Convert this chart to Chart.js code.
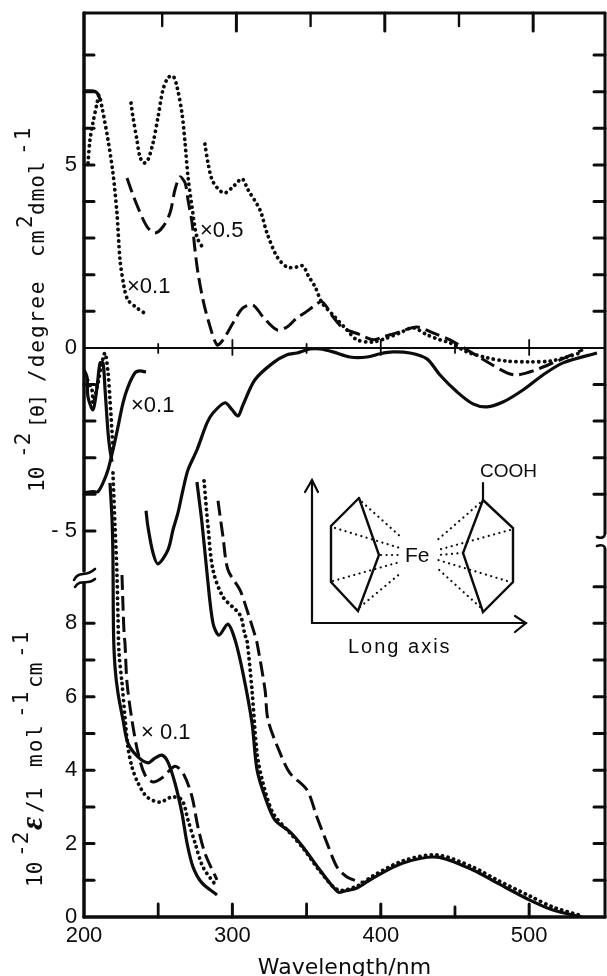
<!DOCTYPE html>
<html><head><meta charset="utf-8">
<style>html,body{margin:0;padding:0;background:#fff}canvas{display:block}</style>
<script src="https://cdn.jsdelivr.net/npm/chart.js@4"></script>
</head><body><canvas id="c" width="607" height="976"></canvas>
<script>
// CD panel, [theta] (units 10^2 degree cm2 dmol-1)
const cdDot01X=[202.7,204,206,208.8,210.1,212.1,216.2,219.5,222.2,224.3,227,229.6,235.7,240.4];
const cdDot01Y=[5.05,5.68,6.15,6.69,6.91,6.58,5.68,4.78,3.69,2.40,1.67,1.31,1.09,0.96];
const cdDash01X=[200,205.4,208.8,210.8];
const cdDash01Y=[7.02,7.02,6.97,6.8];
const cdDot05aX=[231.7,233,235.7,237.7,240.4,243.1,246.5,249.9,253.2,256.6,260,262.7,266,268.1,270.1,272.8,276.1,280.9];
const cdDot05aY=[6.69,6.31,5.68,5.22,5.05,5.14,5.60,6.31,7.05,7.38,7.43,7.13,6.42,5.60,4.67,3.85,3.03,2.68];
const cdDotX=[281.5,283.6,286.9,294.3,300.4,306.5,310.5,318.6,323.3,330.1,336.8,343.5,347.6,350.9,355.7,360.4,367.8,377.2,384,394.1,402.8,412.9,421.7,431.1,439.9,446.6,458.1,471.6,485,500.5,514,525.5,536.3];
const cdDotY=[5.57,5.05,4.54,4.23,4.40,4.62,4.32,3.77,3.14,2.49,2.21,2.21,2.24,1.99,1.67,1.23,0.90,0.49,0.22,0.16,0.25,0.41,0.55,0.36,0.22,0.14,-0.11,-0.27,-0.36,-0.38,-0.36,-0.25,-0.11];
const cdDashX=[229,232.3,236.4,242.5,247.8,253.2,258,261.3,264.7,268.1,270.1,272.8,274.8,276.8,280.2,283.6,289.6,293.7,300.4,307.1,313.9,320.6,330.1,336.8,343.5,348.9,354.3,360.4,367.8,374.5,386,394.7,401.5,412.9,424.4,435.2,446.6,458.1,471.6,485,491.8,502.6,516,536.3];
const cdDashY=[4.64,4.26,3.83,3.31,3.14,3.31,3.69,4.32,4.67,4.51,4.04,3.42,2.68,2.05,1.31,0.77,0.08,0.22,0.68,1.09,1.17,0.85,0.49,0.57,0.82,0.96,1.12,1.26,0.85,0.55,0.36,0.22,0.30,0.44,0.57,0.41,0.22,-0.05,-0.38,-0.68,-0.74,-0.63,-0.41,-0.05];
const cdSolidX=[241.8,243.1,246.5,249.9,256.6,260,263.3,266.7,270.1,276.1,282.9,286.9,295,299.7,303.8,307.1,315.2,327.4,336.8,343.5,352.3,359,367.8,379.2,390.7,399.5,408.2,419.7,431.1,439.9,451.3,462.1,471.6,482.3,495.8,509.3,522.8,545.7];
const cdSolidY=[-4.45,-4.89,-5.60,-5.90,-5.52,-4.97,-4.51,-3.88,-3.33,-2.79,-2.05,-1.78,-1.50,-1.69,-1.86,-1.56,-0.87,-0.41,-0.19,-0.14,-0.03,-0.03,-0.11,-0.25,-0.25,-0.16,-0.11,-0.14,-0.30,-0.74,-1.20,-1.53,-1.61,-1.48,-1.15,-0.74,-0.41,-0.14];
const cdSolid01X=[200,206.1,209.4,212.8,216.2,219.5,222.9,226.3,229.6,234.4,237.7,241.8];
const cdSolid01Y=[-3.96,-3.93,-3.93,-3.69,-3.33,-2.79,-2.16,-1.50,-1.07,-0.68,-0.63,-0.66];
const cdWiggleSolidX=[200,202,202.7,206.1,208.8,210.8,212.8,214.2,216.2,217.5,218.9];
const cdWiggleSolidY=[-0.60,-0.79,-1.34,-1.69,-1.07,-0.41,-0.41,-1.15,-2.32,-2.79,-3.11];
const cdWiggleDotX=[200.7,205.4,206.1,209.4,212.1,214.2,216.2,217.5,218.9,219.5];
const cdWiggleDotY=[-0.74,-1.15,-1.50,-0.96,-0.41,-0.14,-0.68,-1.42,-2.32,-2.87];
// Absorption panel, epsilon (units 10^2 l mol-1 cm-1)
const epsSolid01X=[217.5,218.9,219.5,219.9,220.9,222.9,226.3,229.6,236.4,243.1,247.8,252.6,256.6,261.3,266,269.4,273.5,279.5,289.6];
const epsSolid01Y=[11.83,10.82,9.81,7.74,6.81,6.10,5.37,4.74,4.36,4.20,4.33,4.41,4.22,3.65,2.83,2.02,1.36,0.93,0.60];
const epsDot01X=[219.5,220.9,222.2,222.9,223.6,225.6,227.6,229.6,232.3,236.4,242.5,251.2,259.3,266,270.1,274.8,280.2,289.6];
const epsDot01Y=[12.1,10.63,9.37,8.17,7.19,6.38,5.45,4.63,4.09,3.65,3.27,3.13,3.27,3.19,2.64,2.02,1.36,0.82];
const epsDash01X=[225.6,226.3,227,227.6,229,232.3,236.4,241.1,246.5,253.2,261.3,267.4,272.8,276.8,281.5,289.6];
const epsDash01Y=[9.32,8.45,7.74,7.47,6.38,5.37,4.47,3.87,3.68,3.81,4.11,3.87,3.27,2.45,1.74,1.01];
const epsSolidX=[276.1,279.5,282.9,286.9,291,297,301.8,307.1,313.2,316.6,322,328.7,338.8,347.6,359,371.2,375.9,384,394.7,415,437.9,462.1,478.3,500.5,516,535.6];
const epsSolidY=[11.85,10.74,9.37,8.01,7.68,7.98,7.55,6.65,5.29,4.01,3.27,2.64,2.32,1.91,1.28,0.68,0.71,0.79,1.06,1.47,1.63,1.28,0.93,0.46,0.19,0];
const epsDotX=[280.9,283.6,286.9,293.7,305.1,308.5,309.8,313.2,316.6,320.6,327.4,338.8,347.6,359,371.2,384,394.7,415,437.9,462.1,478.3,500.5,516,535.6];
const epsDotY=[11.88,10.63,9.46,8.72,8.23,7.68,7.55,6.19,4.47,3.65,2.83,2.29,1.88,1.25,0.74,0.84,1.12,1.53,1.69,1.36,1.01,0.57,0.27,0.03];
const epsDashX=[290.3,293.7,297,305.1,310.5,315.2,316.6,322,324,332.1,338.8,350.3,357,363.7,370.5,377.2,384,389.4,396];
const epsDashY=[11.34,10.35,9.46,8.91,8.28,7.68,7.47,6.19,5.37,4.47,3.92,3.46,2.72,2.02,1.36,1.09,0.98,0.95,1.09];
// Axis ticks and labels
const xTickLabels=[200,300,400,500];
const xFrameTicks=[250,300,350,400,450,500];
const cdTickLabels=[5,0,-5];
const epsTickLabels=[8,6,4,2,0];
const cdLeftTicks=[8,7,6,5,4,3,2,1,-1,-2,-3,-4,-5];
const cdRightTicks=[8,7,6,5,4,3,2,1,-1,-2,-3,-4];
const epsLeftTicks=[8,7,6,5,4,3,2,1];
const epsRightTicks=[9,8,7,6,5,4,3,2,1];

const solid={borderDash:[],borderWidth:3.2};
const dashed={borderDash:[15,6],borderWidth:3};
const dotted={borderDash:[0.1,5.6],borderWidth:3.8};
function series(xs,ys,axis,style){
  return Object.assign({data:xs.map((x,i)=>({x:x,y:ys[i]})),yAxisID:axis,xAxisID:'x',showLine:true,
    pointRadius:0,pointHoverRadius:0,borderColor:'#0c0c0c',backgroundColor:'#0c0c0c',tension:0.3,
    borderCapStyle:style===dotted?'round':'butt',borderJoinStyle:'round',fill:false},style);
}
const datasets=[
 series(cdDot01X,cdDot01Y,'yCD',dotted),series(cdDash01X,cdDash01Y,'yCD',solid),
 series(cdDot05aX,cdDot05aY,'yCD',dotted),series(cdDotX,cdDotY,'yCD',dotted),
 series(cdDashX,cdDashY,'yCD',dashed),series(cdSolidX,cdSolidY,'yCD',solid),
 series(cdSolid01X,cdSolid01Y,'yCD',solid),series(cdWiggleSolidX,cdWiggleSolidY,'yCD',solid),
 series(cdWiggleDotX,cdWiggleDotY,'yCD',dotted),
 series(epsSolid01X,epsSolid01Y,'yEps',solid),series(epsDot01X,epsDot01Y,'yEps',dotted),
 series(epsDash01X,epsDash01Y,'yEps',dashed),series(epsSolidX,epsSolidY,'yEps',solid),
 series(epsDotX,epsDotY,'yEps',dotted),series(epsDashX,epsDashY,'yEps',dashed)
];

const INK='#0c0c0c';
const tickFont={family:'"Liberation Sans"',size:22};
const monoFont='"DejaVu Sans Mono"';
function line(ctx,pts,w,dash){
  ctx.save();ctx.lineWidth=w;ctx.strokeStyle=INK;ctx.lineCap='round';ctx.lineJoin='miter';
  if(dash)ctx.setLineDash(dash);
  ctx.beginPath();pts.forEach((p,i)=>i?ctx.lineTo(p[0],p[1]):ctx.moveTo(p[0],p[1]));ctx.stroke();ctx.restore();
}
function vText(ctx,str,startY,baseX,size,spacing,font){
  ctx.save();ctx.translate(baseX,startY);ctx.rotate(-Math.PI/2);
  ctx.font=font||(size+'px '+monoFont);ctx.fillStyle=INK;ctx.textAlign='left';ctx.textBaseline='alphabetic';
  ctx.letterSpacing=(spacing||0)+'px';ctx.fillText(str,0,0);ctx.restore();
}
function hText(ctx,str,x,y,size,font,spacing){
  ctx.save();ctx.font=size+'px '+(font||'"Liberation Sans"');ctx.fillStyle=INK;ctx.textAlign='left';ctx.textBaseline='middle';
  ctx.letterSpacing=(spacing||0)+'px';ctx.fillText(str,x,y);ctx.restore();
}
const framePlugin={id:'frame',afterDatasetsDraw(chart){
  const ctx=chart.ctx,a=chart.chartArea,S=chart.scales;
  const L=a.left,R=a.right,T=a.top,B=a.bottom;
  line(ctx,[[L,T],[R,T]],3);
  line(ctx,[[L,B],[R,B]],3.5);
  line(ctx,[[L,T],[L,571]],3.5);
  line(ctx,[[L,583],[L,B]],3.5);
  line(ctx,[[R,T],[R,533]],3);
  line(ctx,[[R,549],[R,B]],3);
  ctx.save();ctx.lineWidth=2.6;ctx.strokeStyle=INK;ctx.lineCap='round';
  ctx.beginPath();ctx.moveTo(74,580);ctx.bezierCurveTo(79,570,85,578,95,569);ctx.stroke();
  ctx.beginPath();ctx.moveTo(75,587);ctx.bezierCurveTo(81,578,87,586,95,579);ctx.stroke();
  ctx.beginPath();ctx.moveTo(R,533);ctx.bezierCurveTo(R,537,R-3,539,R-8,537);ctx.stroke();
  ctx.beginPath();ctx.moveTo(R,549);ctx.bezierCurveTo(R,546,R-3,544,R-8,546);ctx.stroke();
  ctx.restore();
  const y0=S.yCD.getPixelForValue(0);
  line(ctx,[[L,y0],[R,y0]],2);
  xFrameTicks.forEach(v=>{
    const big=v%100===0;
    const xt=S.x2.getPixelForValue(v);
    line(ctx,[[xt,T],[xt,T+(big?18:13)]],big?3:2.4);
    const x=S.x.getPixelForValue(v);
    line(ctx,[[x,y0-(big?8:4)],[x,y0+(big?7:5)]],1.8);
    line(ctx,[[x,B],[x,B-(v===450?10:13)]],big?3:2.8);
  });
  cdLeftTicks.forEach(v=>{const y=S.yCD.getPixelForValue(v);line(ctx,[[L,y],[L+(v<0?11:10),y]],3);});
  epsLeftTicks.forEach(v=>{const y=S.yEps.getPixelForValue(v);line(ctx,[[L,y],[L+10,y]],3);});
  cdRightTicks.forEach(v=>{const y=S.yCD.getPixelForValue(v);line(ctx,[[R,y],[R-11,y]],3);});
  epsRightTicks.forEach(v=>{const y=S.yEps.getPixelForValue(v);line(ctx,[[R,y],[R-11,y]],3);});
  vText(ctx,'10',492,44,21);vText(ctx,'-2',458,30,21);
  vText(ctx,'[\u03b8]',428,44,20,-1);vText(ctx,'/degree',382,44,21,2);
  vText(ctx,'cm',257,44,21,1);vText(ctx,'2',228,32,21);vText(ctx,'dmol',215,44,21,1);vText(ctx,'-1',155,30,21,2);
  vText(ctx,'10',887,42,21);vText(ctx,'-2',857,28,21);
  vText(ctx,'\u03b5',830,42,0,0,'italic bold 32px "Liberation Serif"');
  vText(ctx,'/1',813,42,21);vText(ctx,'mol',767,42,21,2);vText(ctx,'-1',718,28,21,1);
  vText(ctx,'cm',688,42,21);vText(ctx,'-1',658,28,21,1);
  hText(ctx,'\u00d70.1',127,287,22);
  hText(ctx,'\u00d70.5',200,231,22);
  hText(ctx,'\u00d70.1',131,406,22);
  hText(ctx,'\u00d7 0.1',141,733,22);
  line(ctx,[[312,623],[312,480]],2.2);line(ctx,[[305,492],[312,480],[318,492]],2.2);
  line(ctx,[[312,623],[526,623]],2.2);line(ctx,[[515,616],[526,623],[515,632]],2.2);
  line(ctx,[[359,498],[331,526],[331,582],[358,611],[379,555],[359,498]],2.4);
  line(ctx,[[483,500],[513,528],[513,582],[483,612],[463,553],[483,500]],2.4);
  line(ctx,[[483,483],[483,500]],2.2);
  [[[362,502],[402,538]],[[335,528],[400,548]],[[381,555],[400,555]],[[333,581],[400,562]],[[360,607],[402,572]],
   [[480,503],[435,542]],[[510,530],[438,550]],[[463,553],[438,555]],[[507,581],[438,560]],[[480,607],[437,568]]]
   .forEach(s=>line(ctx,s,2.2,[0.1,5.4]));
  hText(ctx,'Fe',405,556,21);
  hText(ctx,'COOH',480,472,19);
  hText(ctx,'Long axis',348,647,20,null,2);
}};

function noPad(s){s.paddingTop=0;s.paddingBottom=0;s.paddingLeft=0;s.paddingRight=0;}
new Chart(document.getElementById('c'),{
  type:'scatter',
  data:{datasets:datasets},
  plugins:[framePlugin],
  options:{
    responsive:false,animation:false,devicePixelRatio:1,
    layout:{autoPadding:false,padding:{left:0,top:13,right:2,bottom:0}},
    plugins:{legend:{display:false},title:{display:false},tooltip:{enabled:false}},
    events:[],
    scales:{
      x:{type:'linear',position:'bottom',min:200,max:551.1,
        grid:{display:false,drawTicks:false},border:{display:false},
        afterFit:s=>{s.height=59;noPad(s);},
        afterBuildTicks:s=>{s.ticks=xTickLabels.map(v=>({value:v}));},
        ticks:{color:INK,font:tickFont,padding:6,autoSkip:false,maxRotation:0,callback:v=>String(v)},
        title:{display:true,text:'Wavelength/nm',color:INK,font:{family:'"DejaVu Sans"',size:22},padding:{top:0,bottom:-5}}},
      x2:{type:'linear',position:'top',display:false,min:197.3,max:548.4,afterFit:s=>{s.height=0;noPad(s);}},
      yCD:{type:'linear',position:'left',weight:1,min:-15.55,max:9.15,
        grid:{display:false,drawTicks:false},border:{display:false},
        afterFit:s=>{s.width=84;noPad(s);},
        afterBuildTicks:s=>{s.ticks=cdTickLabels.map(v=>({value:v}));},
        ticks:{color:INK,font:tickFont,padding:7,autoSkip:false,callback:v=>v<0?'- '+Math.abs(v):String(v)}},
      yEps:{type:'linear',position:'left',weight:0,min:0,max:24.63,
        grid:{display:false,drawTicks:false},border:{display:false},
        afterFit:s=>{s.width=0;noPad(s);},
        afterBuildTicks:s=>{s.ticks=epsTickLabels.map(v=>({value:v}));},
        ticks:{color:INK,font:tickFont,mirror:true,padding:-19,autoSkip:false,callback:v=>String(v)}}
    }
  }
});
</script></body></html>
